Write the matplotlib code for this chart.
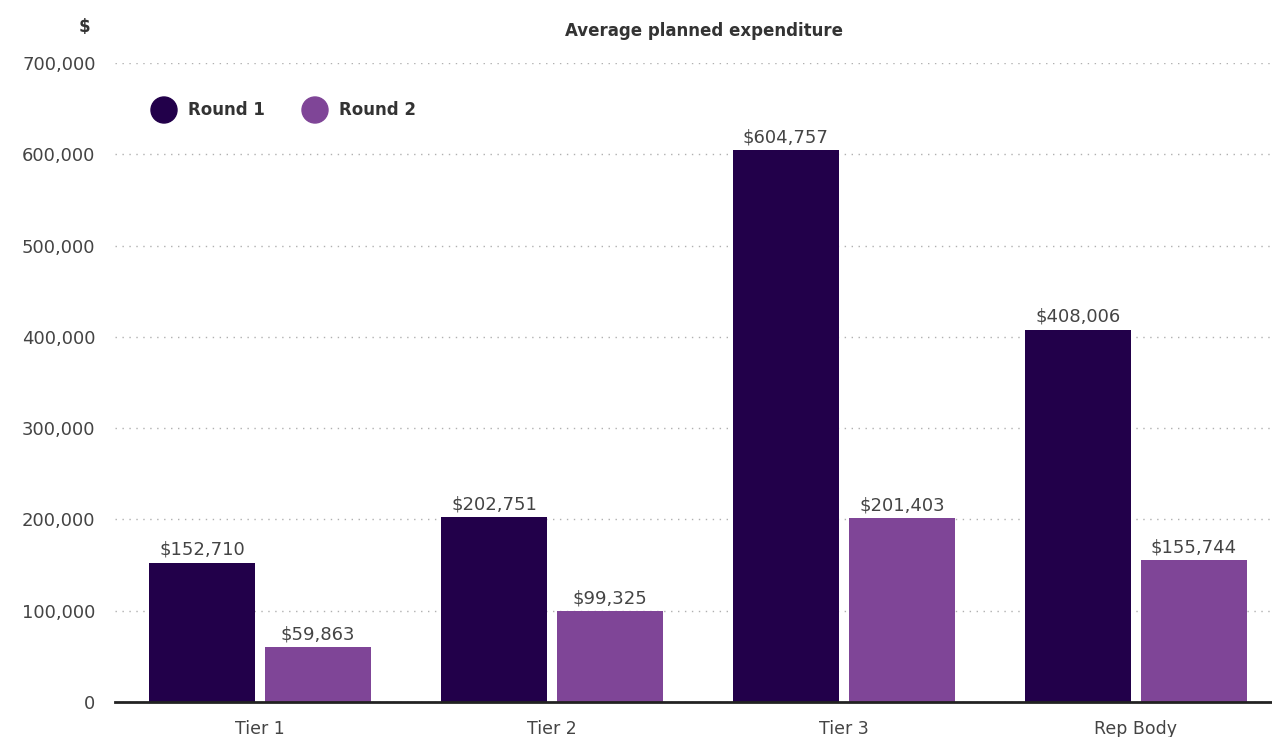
import matplotlib.pyplot as plt
from matplotlib.patches import Ellipse
import numpy as np

categories = ["Tier 1", "Tier 2", "Tier 3", "Rep Body"]
round1 = [152710, 202751, 604757, 408006]
round2 = [59863, 99325, 201403, 155744]
yticks = [0, 100000, 200000, 300000, 400000, 500000, 600000, 700000]

c1 = "#22004a"
c2 = "#7f4597"
txt = "#333333"
lbl = "#444444"

plt.rcParams['font.family'] = ['DejaVu Sans']

W, H = 1272, 737
fig = plt.figure(figsize=(W / 100, H / 100), dpi=100)
ax = fig.add_axes([115 / W, 35 / H, 1 - 115 / W, 639 / H])

x = np.arange(len(categories))
w = 0.363
b1 = ax.bar(x - 0.199, round1, w, color=c1, zorder=3)
b2 = ax.bar(x + 0.199, round2, w, color=c2, zorder=3)

# value labels above bars
for bars, vals in [(b1, round1), (b2, round2)]:
    for bar, v in zip(bars, vals):
        ax.text(bar.get_x() + bar.get_width() / 2, v + 4000, f"${v:,}",
                ha='center', va='bottom', fontsize=13, color=lbl)

ax.set_xlim(-0.497, 3.466)
ax.set_ylim(0, 700000)
ax.set_xticks(x)
ax.set_xticklabels(categories, fontsize=12.5, color=lbl)
ax.set_yticks(yticks)
ax.set_yticklabels([f"{t:,}" for t in yticks], fontsize=13, color=lbl)
ax.tick_params(axis='both', length=0)
ax.tick_params(axis='x', pad=13)
ax.tick_params(axis='y', pad=14)

ax.grid(axis='y', linestyle=(0, (1, 4)), color='#b0b0b0', linewidth=1, zorder=0)
for s in ['top', 'right', 'left']:
    ax.spines[s].set_visible(False)
ax.spines['bottom'].set_color('#222222')
ax.spines['bottom'].set_linewidth(2)
ax.spines['bottom'].set_zorder(4)

# titles and legend
fig.text(84 / W, 1 - 27 / H, "$", fontsize=12, fontweight='bold', color=txt, ha='center', va='center')
fig.text(704 / W, 1 - 31 / H, "Average planned expenditure", fontsize=12, fontweight='bold',
         color=txt, ha='center', va='center')
ly = 1 - 110 / H
for cx, col, lab in [(164, c1, "Round 1"), (315, c2, "Round 2")]:
    fig.add_artist(Ellipse((cx / W, ly), 26 / W, 26 / H, transform=fig.transFigure, color=col))
    fig.text((cx + 24) / W, ly, lab, fontsize=12, fontweight='bold', color=txt, va='center')

fig.savefig("out.png", dpi=100)
